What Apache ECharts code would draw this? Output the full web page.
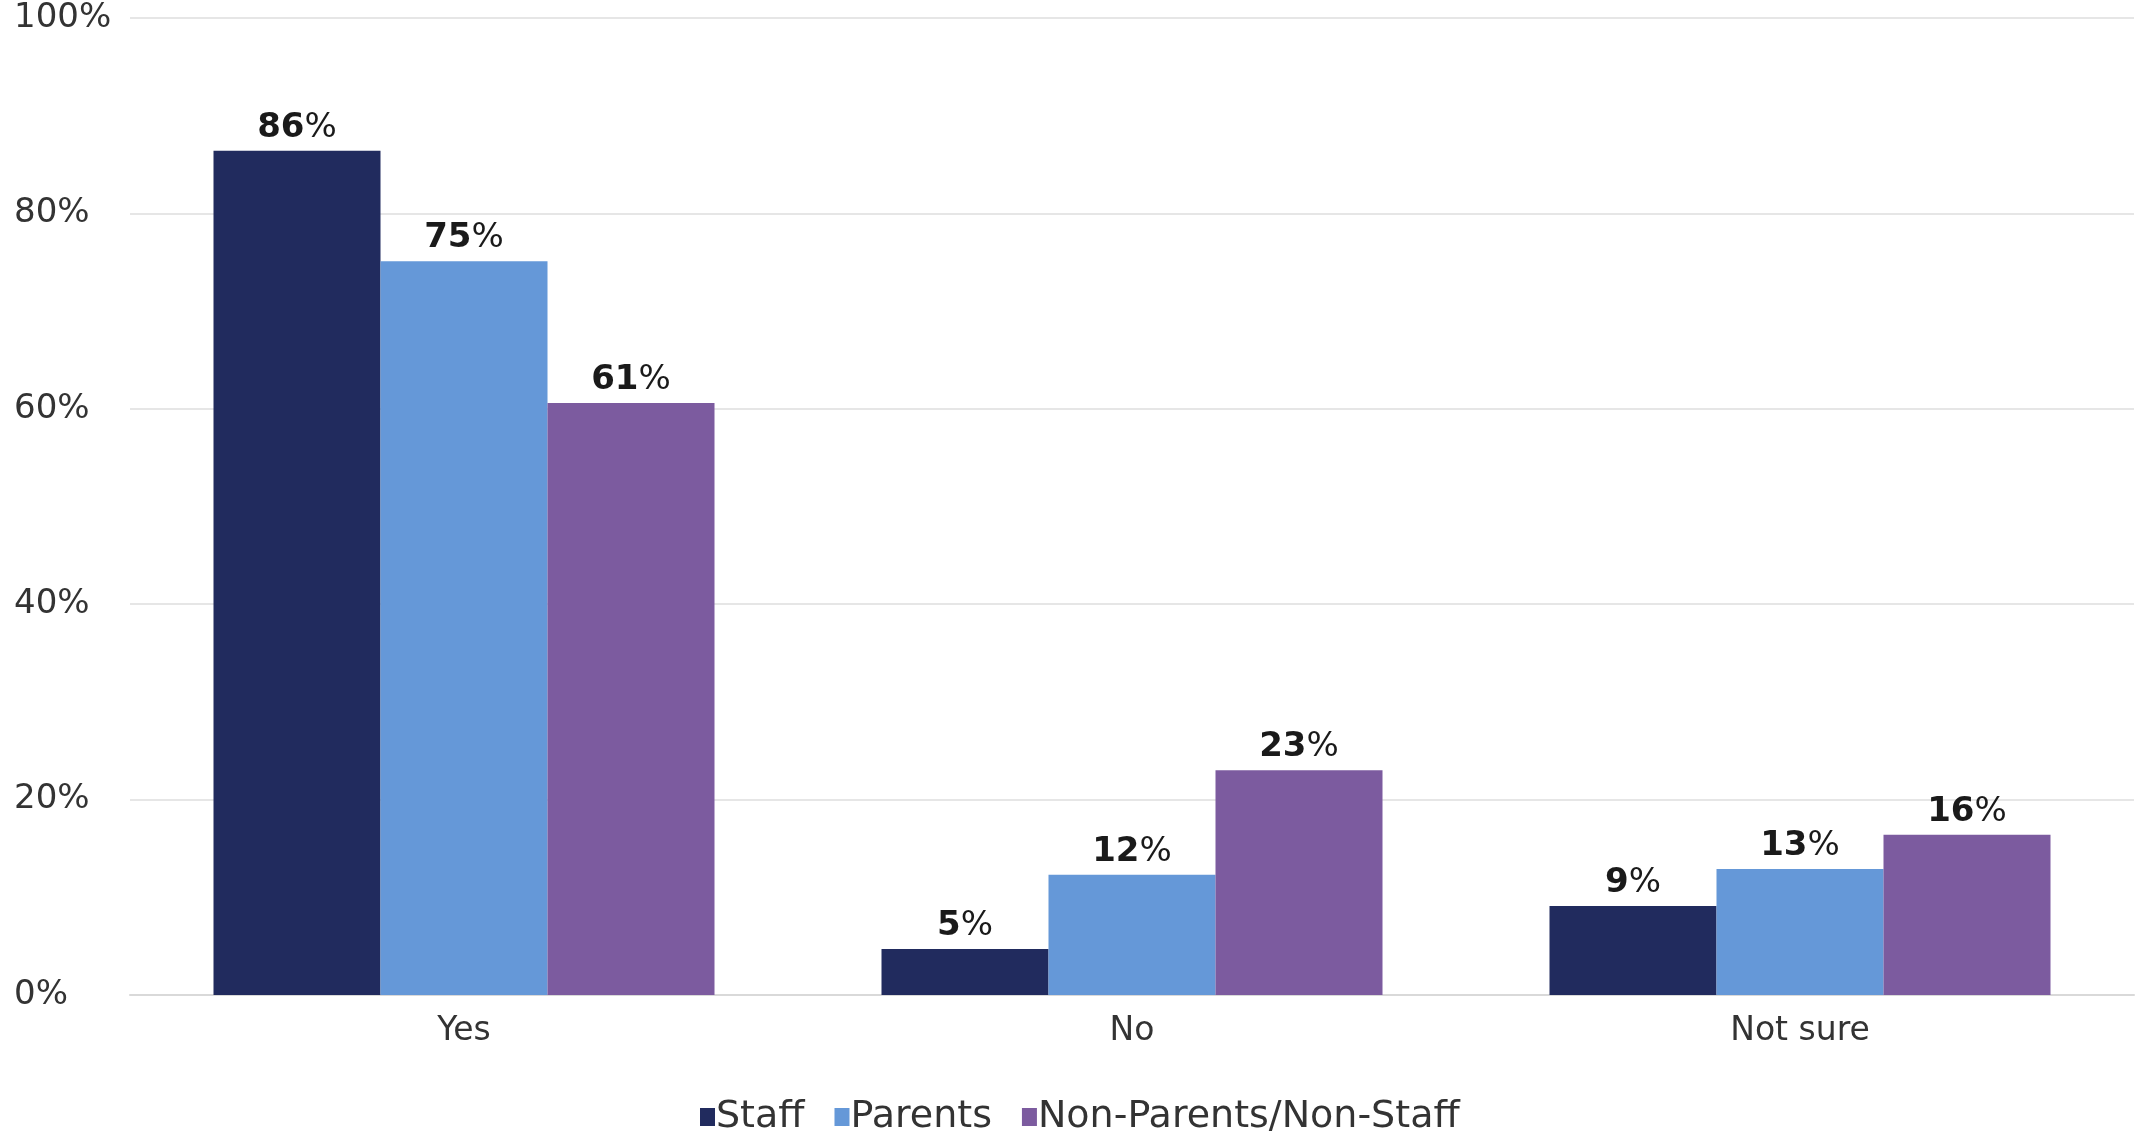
<!DOCTYPE html>
<html>
<head>
<meta charset="utf-8">
<style>
html,body{margin:0;padding:0;background:#fff;}
#chart{width:2138px;height:1138px;}
</style>
<script src="https://cdn.jsdelivr.net/npm/echarts@6/dist/echarts.min.js"></script>
</head>
<body>
<div id="chart"></div>
<script>
const categories = ['Yes', 'No', 'Not sure'];
const seriesNames = ['Staff', 'Parents', 'Non-Parents/Non-Staff'];
const staff = [86.4, 4.7, 9.1];
const parents = [75.1, 12.3, 12.9];
const nonParents = [60.6, 23.0, 16.4];
const yTicks = [0, 20, 40, 60, 80, 100];
const colors = ['#212b5e', '#6598d8', '#7c5b9f'];

const FONT = 'DejaVu Sans';
const chart = echarts.init(document.getElementById('chart'));

function mkSeries(name, data, color) {
  return {
    name: name,
    type: 'bar',
    data: data,
    barGap: '0%',
    barCategoryGap: '25%',
    itemStyle: { color: color },
    label: {
      show: true,
      position: 'top',
      distance: 6,
      formatter: p => '{b|' + Math.round(p.value) + '}{n|%}',
      rich: {
        b: { fontFamily: FONT, fontWeight: 'bold', fontSize: 34, color: '#1a1a1a' },
        n: { fontFamily: FONT, fontWeight: 'normal', fontSize: 34, color: '#1a1a1a' }
      }
    }
  };
}

chart.setOption({
  animation: false,
  backgroundColor: '#ffffff',
  grid: { left: 130, right: 4, top: 18, bottom: 143, containLabel: false },
  legend: {
    data: seriesNames,
    left: 695,
    top: 1093,
    icon: 'rect',
    itemWidth: 15,
    itemHeight: 18,
    itemGap: 30,
    textStyle: { fontFamily: FONT, fontSize: 38, color: '#333333', padding: [0, 0, 0, -4] }
  },
  xAxis: {
    type: 'category',
    data: categories,
    axisLine: { show: true, lineStyle: { color: '#d9d9d9', width: 2 } },
    axisTick: { show: false },
    axisLabel: { fontFamily: FONT, fontSize: 33, color: '#333333', margin: 20 }
  },
  yAxis: {
    type: 'value',
    min: yTicks[0],
    max: yTicks[yTicks.length - 1],
    interval: 20,
    axisLine: { show: false },
    axisTick: { show: false },
    splitLine: { lineStyle: { color: '#e6e6e6', width: 2 } },
    axisLabel: {
      fontFamily: FONT, fontSize: 34, color: '#333333',
      align: 'left', margin: 116,
      formatter: v => v + '%'
    }
  },
  series: [
    mkSeries(seriesNames[0], staff, colors[0]),
    mkSeries(seriesNames[1], parents, colors[1]),
    mkSeries(seriesNames[2], nonParents, colors[2])
  ]
});
</script>
</body>
</html>
